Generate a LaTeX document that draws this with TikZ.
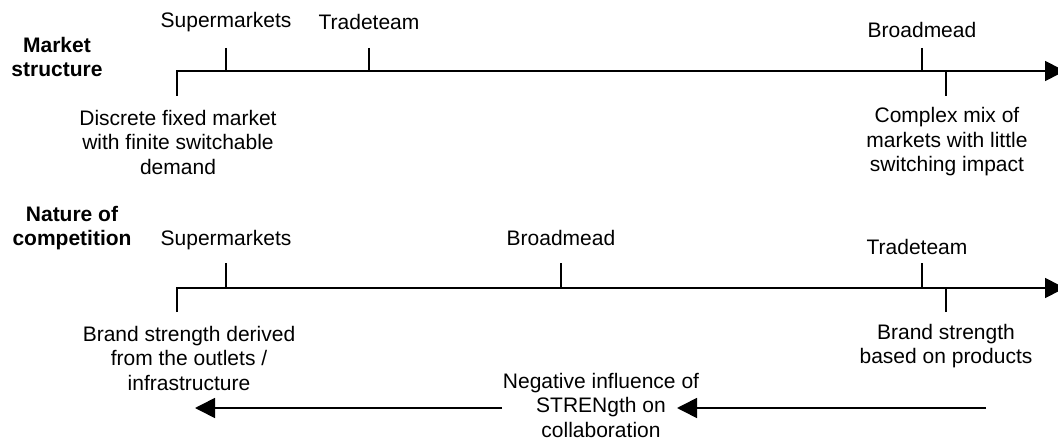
\documentclass[tikz,border=0pt]{standalone}
\usepackage{fontspec}
\setmainfont{Liberation Sans}
\usetikzlibrary{arrows.meta}
\begin{document}
\begin{tikzpicture}[x=1pt, y=-1pt, line width=1.6pt,
    lbl/.style={inner sep=0pt, align=center, font=\fontsize{21}{24.5}\selectfont},
    head/.style={inner sep=0pt, align=center, font=\fontsize{21}{24.5}\selectfont\bfseries},
    axis/.style={-{Triangle[length=20pt,width=20pt]}}]
    \useasboundingbox (0,0) rectangle (1058,441);

    % Market structure
    \node[head] (ms) at (57,57) {Market\\structure};
    \coordinate (a0) at (177,71);
    \coordinate (a1) at (1065,71);
    \coordinate (d1) at (177,96);
    \draw[axis] (d1) -- (a0) -- (a1);

    % Positions above the line
    \node[lbl] (sm1) at (226,22) {Supermarkets};
    \node[lbl] (tt1) at (369,22) {Tradeteam};
    \node[lbl] (bm1) at (922,30) {Broadmead};
    \coordinate (u1) at (226,48);
    \coordinate (u2) at (369,48);
    \coordinate (u3) at (922,48);
    \draw (u1) -- (u1 |- a0);
    \draw (u2) -- (u2 |- a0);
    \draw (u3) -- (u3 |- a0);

    % Ends of the scale
    \coordinate (d2) at (946,96);
    \draw (d2) -- (d2 |- a0);
    \node[lbl] (lo1) at (178,142) {Discrete fixed market\\with finite switchable\\demand};
    \node[lbl] (hi1) at (947,142) {Complex mix of\\markets with little\\switching impact};

    % Nature of competition
    \node[head] (nc) at (72,228) {Nature of\\competition};
    \coordinate (b0) at (177,288);
    \coordinate (b1) at (1065,288);
    \coordinate (e1) at (177,312);
    \draw[axis] (e1) -- (b0) -- (b1);

    \node[lbl] (sm2) at (226,240) {Supermarkets};
    \node[lbl] (bm2) at (561,238) {Broadmead};
    \node[lbl] (tt2) at (917,247) {Tradeteam};
    \coordinate (v1) at (226,263);
    \coordinate (v2) at (561,263);
    \coordinate (v3) at (922,263);
    \draw (v1) -- (v1 |- b0);
    \draw (v2) -- (v2 |- b0);
    \draw (v3) -- (v3 |- b0);

    \coordinate (e2) at (946,312);
    \draw (e2) -- (e2 |- b0);
    \node[lbl] (lo2) at (189,358) {Brand strength derived\\from the outlets /\\infrastructure};
    \node[lbl] (hi2) at (946,346) {Brand strength\\based on products};

    % Influence on collaboration
    \node[lbl] (neg) at (601,405) {Negative influence of\\STRENgth on\\collaboration};
    \coordinate (l0) at (195,408);
    \coordinate (r0) at (986,408);
    \coordinate (r1) at (677,408);
    \draw[axis] (neg.west |- l0) -- (l0);
    \draw[axis] (r0) -- (r1);

\end{tikzpicture}
\end{document}
